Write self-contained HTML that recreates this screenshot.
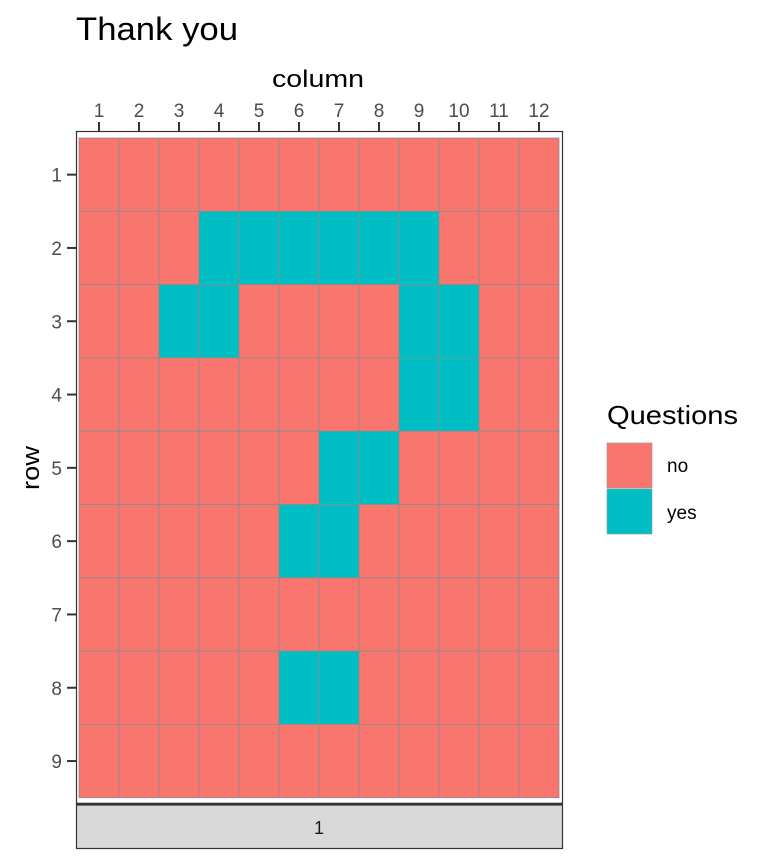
<!DOCTYPE html>
<html><head><meta charset="utf-8"><style>body{margin:0;background:#fff}svg{display:block;font-family:"Liberation Sans",Arial,sans-serif}</style></head>
<body>
<svg id="chart" width="768" height="865">
<text x="76" y="40" font-size="32" textLength="162" lengthAdjust="spacingAndGlyphs" fill="#000">Thank you</text>
<text x="272" y="87" font-size="24" textLength="92" lengthAdjust="spacingAndGlyphs" fill="#000">column</text>
<text transform="translate(39,468) rotate(-90)" font-size="24" textLength="44" lengthAdjust="spacingAndGlyphs" text-anchor="middle" fill="#000">row</text>
<rect x="76.5" y="131.5" width="486" height="672" fill="#fff" stroke="#333" stroke-width="1.2"/>
<g id="cells"></g>
<g id="axes"></g>
<rect x="76.5" y="805" width="486" height="43.5" fill="#d9d9d9" stroke="#333" stroke-width="1.2"/>
<line x1="76" y1="804" x2="563" y2="804" stroke="#333" stroke-width="2.5"/>
<text x="319" y="834" font-size="18" text-anchor="middle" fill="#1a1a1a">1</text>
<text x="607" y="424" font-size="26" textLength="131" lengthAdjust="spacingAndGlyphs" fill="#000">Questions</text>
<rect x="607" y="443" width="45" height="45" fill="#F8766D" stroke="#999" stroke-width="0.6"/>
<text x="667" y="472" font-size="19" fill="#000">no</text>
<rect x="607" y="489" width="45" height="45" fill="#00BFC4" stroke="#999" stroke-width="0.6"/>
<text x="667" y="519" font-size="19" fill="#000">yes</text>
</svg>
<script>
const columns=[1,2,3,4,5,6,7,8,9,10,11,12];
const rows=[1,2,3,4,5,6,7,8,9];
const yesCells=[[2,4],[2,5],[2,6],[2,7],[2,8],[2,9],[3,3],[3,4],[3,9],[3,10],[4,9],[4,10],[5,7],[5,8],[6,6],[6,7],[8,6],[8,7]];
const NS="http://www.w3.org/2000/svg";
const x0=79,cw=40,y0=138,rh=(797.7-138)/9;
function xs(c){return x0+(c-1)*cw;}
function ys(r){return y0+(r-1)*rh;}
const yesSet=new Set(yesCells.map(p=>p[0]+"-"+p[1]));
const cells=document.getElementById('cells');
const axes=document.getElementById('axes');
rows.forEach(r=>columns.forEach(c=>{
  const el=document.createElementNS(NS,'rect');
  el.setAttribute('x',xs(c));el.setAttribute('y',ys(r));
  el.setAttribute('width',cw);el.setAttribute('height',rh);
  el.setAttribute('fill',yesSet.has(r+"-"+c)?'#00BFC4':'#F8766D');
  el.setAttribute('stroke','#8c8c8c');el.setAttribute('stroke-width','0.8');
  
  
  cells.appendChild(el);
}));
columns.forEach(c=>{
  const cx=xs(c)+cw/2;
  const t=document.createElementNS(NS,'line');
  t.setAttribute('x1',cx);t.setAttribute('x2',cx);t.setAttribute('y1',122);t.setAttribute('y2',131);
  t.setAttribute('stroke','#333');t.setAttribute('stroke-width','2');
  axes.appendChild(t);
  const l=document.createElementNS(NS,'text');
  l.setAttribute('x',cx);l.setAttribute('y',117);l.setAttribute('font-size','19');
  l.setAttribute('text-anchor','middle');l.setAttribute('fill','#4d4d4d');
  l.textContent=c;
  
  
  axes.appendChild(l);
});
rows.forEach(r=>{
  const cy=ys(r)+rh/2;
  const t=document.createElementNS(NS,'line');
  t.setAttribute('x1',67);t.setAttribute('x2',76);t.setAttribute('y1',cy);t.setAttribute('y2',cy);
  t.setAttribute('stroke','#333');t.setAttribute('stroke-width','2');
  axes.appendChild(t);
  const l=document.createElementNS(NS,'text');
  l.setAttribute('x',62);l.setAttribute('y',cy+7);l.setAttribute('font-size','19');
  l.setAttribute('text-anchor','end');l.setAttribute('fill','#4d4d4d');
  l.textContent=r;
  
  
  axes.appendChild(l);
});
</script>
</body></html>
